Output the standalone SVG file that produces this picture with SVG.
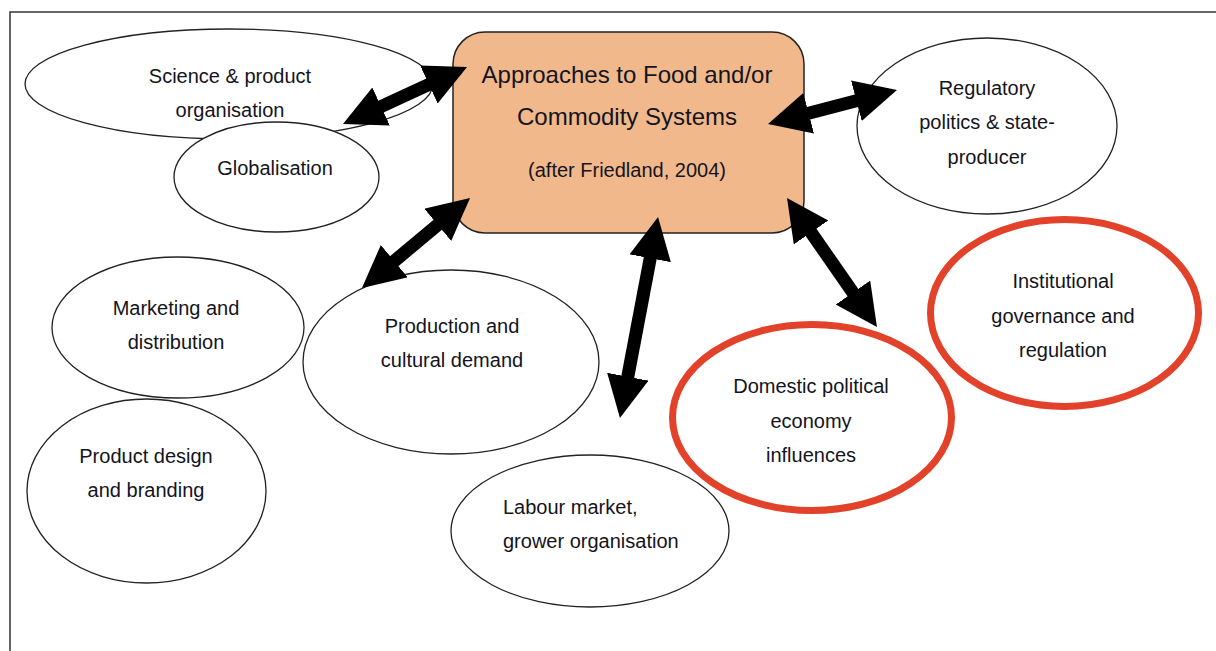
<svg xmlns="http://www.w3.org/2000/svg" width="1216" height="651" viewBox="0 0 1216 651">
<style>
  text { font-family: "Liberation Sans", Arial, Helvetica, sans-serif; font-size: 20px; fill: #141420; text-anchor: middle; }
  .title { font-size: 24px; }
  .plain { fill: #fff; stroke: #222; stroke-width: 1.3; }
  .red { fill: #fff; stroke: #E2412A; stroke-width: 7; }
  .box { fill: #F1B98B; stroke: #222; stroke-width: 1.5; }
  .frame { fill: none; stroke: #333; stroke-width: 1.5; }
  .arrow { stroke: #000; stroke-width: 13; fill: none; marker-start: url(#head); marker-end: url(#head); }
</style>
<defs>
  <marker id="head" markerUnits="userSpaceOnUse" markerWidth="44" markerHeight="44" refX="2" refY="21" orient="auto-start-reverse" viewBox="0 0 44 44">
    <path d="M0,0 L42,21 L0,42 z" fill="#000"/>
  </marker>
</defs>
<rect width="1216" height="651" fill="#fff"/>
<path class="frame" d="M10,651 L10,12 L1216,12"/>

<g id="science">
  <ellipse class="plain" cx="229" cy="84" rx="204" ry="55"/>
  <text x="230" y="83">Science &amp; product</text>
  <text x="230" y="117">organisation</text>
</g>
<g id="globalisation">
  <ellipse class="plain" cx="276.5" cy="177" rx="102.5" ry="55"/>
  <text x="275" y="175">Globalisation</text>
</g>
<g id="approaches">
  <rect class="box" x="453" y="32" width="351" height="201" rx="32" ry="32"/>
  <text class="title" x="627" y="83">Approaches to Food and/or</text>
  <text class="title" x="627" y="125">Commodity Systems</text>
  <text x="627" y="177">(after Friedland, 2004)</text>
</g>
<g id="regulatory">
  <ellipse class="plain" cx="987" cy="126" rx="130" ry="88"/>
  <text x="987" y="95">Regulatory</text>
  <text x="987" y="129">politics &amp; state-</text>
  <text x="987" y="164">producer</text>
</g>
<g id="institutional">
  <ellipse class="red" cx="1064.5" cy="313" rx="134" ry="93.5"/>
  <text x="1063" y="288">Institutional</text>
  <text x="1063" y="323">governance and</text>
  <text x="1063" y="357">regulation</text>
</g>
<g id="marketing">
  <ellipse class="plain" cx="178" cy="327.5" rx="126" ry="70.5"/>
  <text x="176" y="315">Marketing and</text>
  <text x="176" y="349">distribution</text>
</g>
<g id="production">
  <ellipse class="plain" cx="451" cy="362" rx="148" ry="92"/>
  <text x="452" y="333">Production and</text>
  <text x="452" y="367">cultural demand</text>
</g>
<g id="product-design">
  <ellipse class="plain" cx="146.5" cy="491" rx="119.5" ry="92"/>
  <text x="146" y="463">Product design</text>
  <text x="146" y="497">and branding</text>
</g>
<g id="domestic">
  <ellipse class="red" cx="812" cy="417.5" rx="139.5" ry="93"/>
  <text x="811" y="393">Domestic political</text>
  <text x="811" y="428">economy</text>
  <text x="811" y="462">influences</text>
</g>
<g id="labour">
  <ellipse class="plain" cx="590" cy="531" rx="139" ry="76"/>
  <text x="503" y="514" style="text-anchor:start">Labour market,</text>
  <text x="503" y="548" style="text-anchor:start">grower organisation</text>
</g>

<g id="connectors">
  <line class="arrow" x1="379.3" y1="107.3" x2="430.7" y2="83.7"/>
  <line class="arrow" x1="806.7" y1="113.8" x2="858.3" y2="100.2"/>
  <line class="arrow" x1="439.3" y1="223.6" x2="392.7" y2="262.4"/>
  <line class="arrow" x1="650.6" y1="256.3" x2="627.4" y2="378.7"/>
  <line class="arrow" x1="809.9" y1="230.8" x2="854.1" y2="294.2"/>
</g>
</svg>
